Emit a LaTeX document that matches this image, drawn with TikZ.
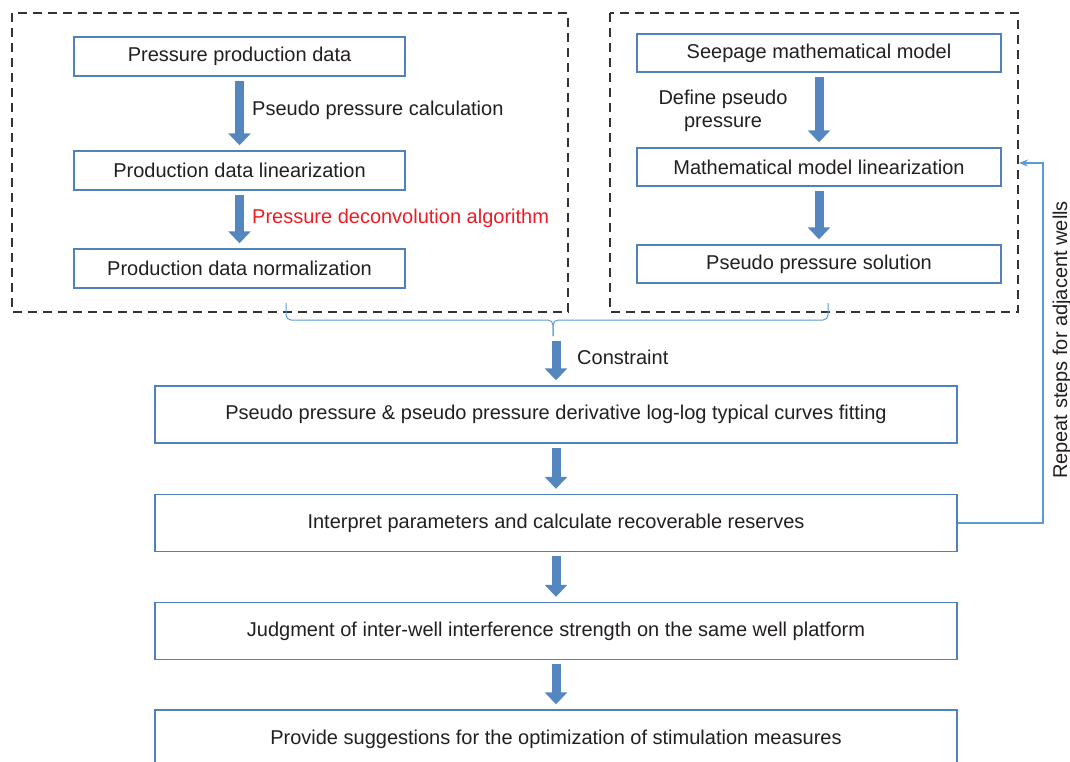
\documentclass[tikz,border=0pt]{standalone}
\usepackage{fontspec}
\setmainfont{Liberation Sans}
\usepackage{xcolor}
\usepackage{tikz}
\usetikzlibrary{arrows.meta}

\definecolor{boxblue}{RGB}{79,129,189}
\definecolor{arrowblue}{RGB}{84,134,192}
\definecolor{lineblue}{RGB}{91,155,213}
\definecolor{textgray}{RGB}{35,31,32}
\definecolor{algred}{RGB}{237,28,36}

\tikzset{
  flowbox/.style={draw=boxblue,line width=1.4pt,minimum width=331pt,minimum height=39pt,
    inner sep=0pt,text=textgray,font=\fontsize{20}{24}\selectfont},
  wide/.style={flowbox,minimum width=802pt,minimum height=57pt},
  fatarrow/.style={arrowblue,line width=9pt,shorten <=4pt,shorten >=5pt,
    -{Triangle[width=22pt,length=12pt]}},
  frame/.style={dash pattern=on 9pt off 6pt,line width=1.3pt,black!80},
  lbl/.style={text=textgray,font=\fontsize{20}{24}\selectfont,inner sep=0pt},
  bracket/.style={lineblue,line width=1pt,rounded corners=5pt},
  feedback/.style={lineblue,line width=1.2pt,-{Stealth[length=9pt,width=7pt]}}
}

\begin{document}
\begin{tikzpicture}[x=1pt,y=-1pt]
  \useasboundingbox (0,0) rectangle (1070,761);
  \draw[frame] (12,13) rectangle (568,312);
  \draw[frame] (610,13) rectangle (1018,312);

  \node[flowbox] (lf1) at (239.5,56.5) {Pressure production data};
  \node[flowbox] (lf2) at (239.5,170.5) {Production data linearization};
  \node[flowbox] (lf3) at (239.5,268.5) {Production data normalization};
  \node[flowbox,minimum width=364pt,minimum height=38pt] (rt1) at (819,53) {Seepage mathematical model};
  \node[flowbox,minimum width=364pt,minimum height=38pt] (rt2) at (819,167) {Mathematical model linearization};
  \node[flowbox,minimum width=364pt,minimum height=38pt] (rt3) at (819,264) {Pseudo pressure solution};

  \node[wide] (fitting) at (556,414.5) {Pseudo pressure \& pseudo pressure derivative log-log typical curves fitting};
  \node[wide] (interp) at (556,523) {Interpret parameters and calculate recoverable reserves};
  \node[wide] (judge) at (556,631) {Judgment of inter-well interference strength on the same well platform};
  \node[wide,minimum height=58pt] (suggest) at (556,739) {Provide suggestions for the optimization of stimulation measures};

  \draw[fatarrow] (lf1) -- (lf2);
  \draw[fatarrow] (lf2) -- (lf3);
  \draw[fatarrow] (rt1) -- (rt2);
  \draw[fatarrow] (rt2) -- (rt3);
  \draw[fatarrow] (fitting) -- (interp);
  \draw[fatarrow] (interp) -- (judge);
  \draw[fatarrow] (judge) -- (suggest);

  \node[lbl,anchor=west] (calc) at (252,110) {Pseudo pressure calculation};
  \node[lbl,anchor=west,text=algred] (deconv) at (252,218) {Pressure deconvolution algorithm};
  \node[lbl,align=center,font=\fontsize{20}{23}\selectfont] (define) at (723,111) {Define pseudo\\pressure};

  \coordinate (brl) at (286,303);
  \coordinate (brr) at (828,303);
  \coordinate (brmid) at (553,320);
  \coordinate (brtip) at (553,336);
  \draw[bracket] (brl) |- (brmid) -- (brtip);
  \draw[bracket] (brr) |- (brmid) -- (brtip);
  \draw[fatarrow,shorten <=5pt] (brtip -| fitting) -- (fitting);
  \node[lbl,anchor=west] (constraint) at (577,357) {Constraint};

  \coordinate (fbtop) at (1043,163);
  \coordinate (fbend) at (1019,163);
  \draw[feedback] (interp.east) -| (fbtop) -- (fbend);
  \node[lbl,rotate=90] (repeat) at (1062,340) {Repeat steps for adjacent wells};
\end{tikzpicture}
\end{document}
